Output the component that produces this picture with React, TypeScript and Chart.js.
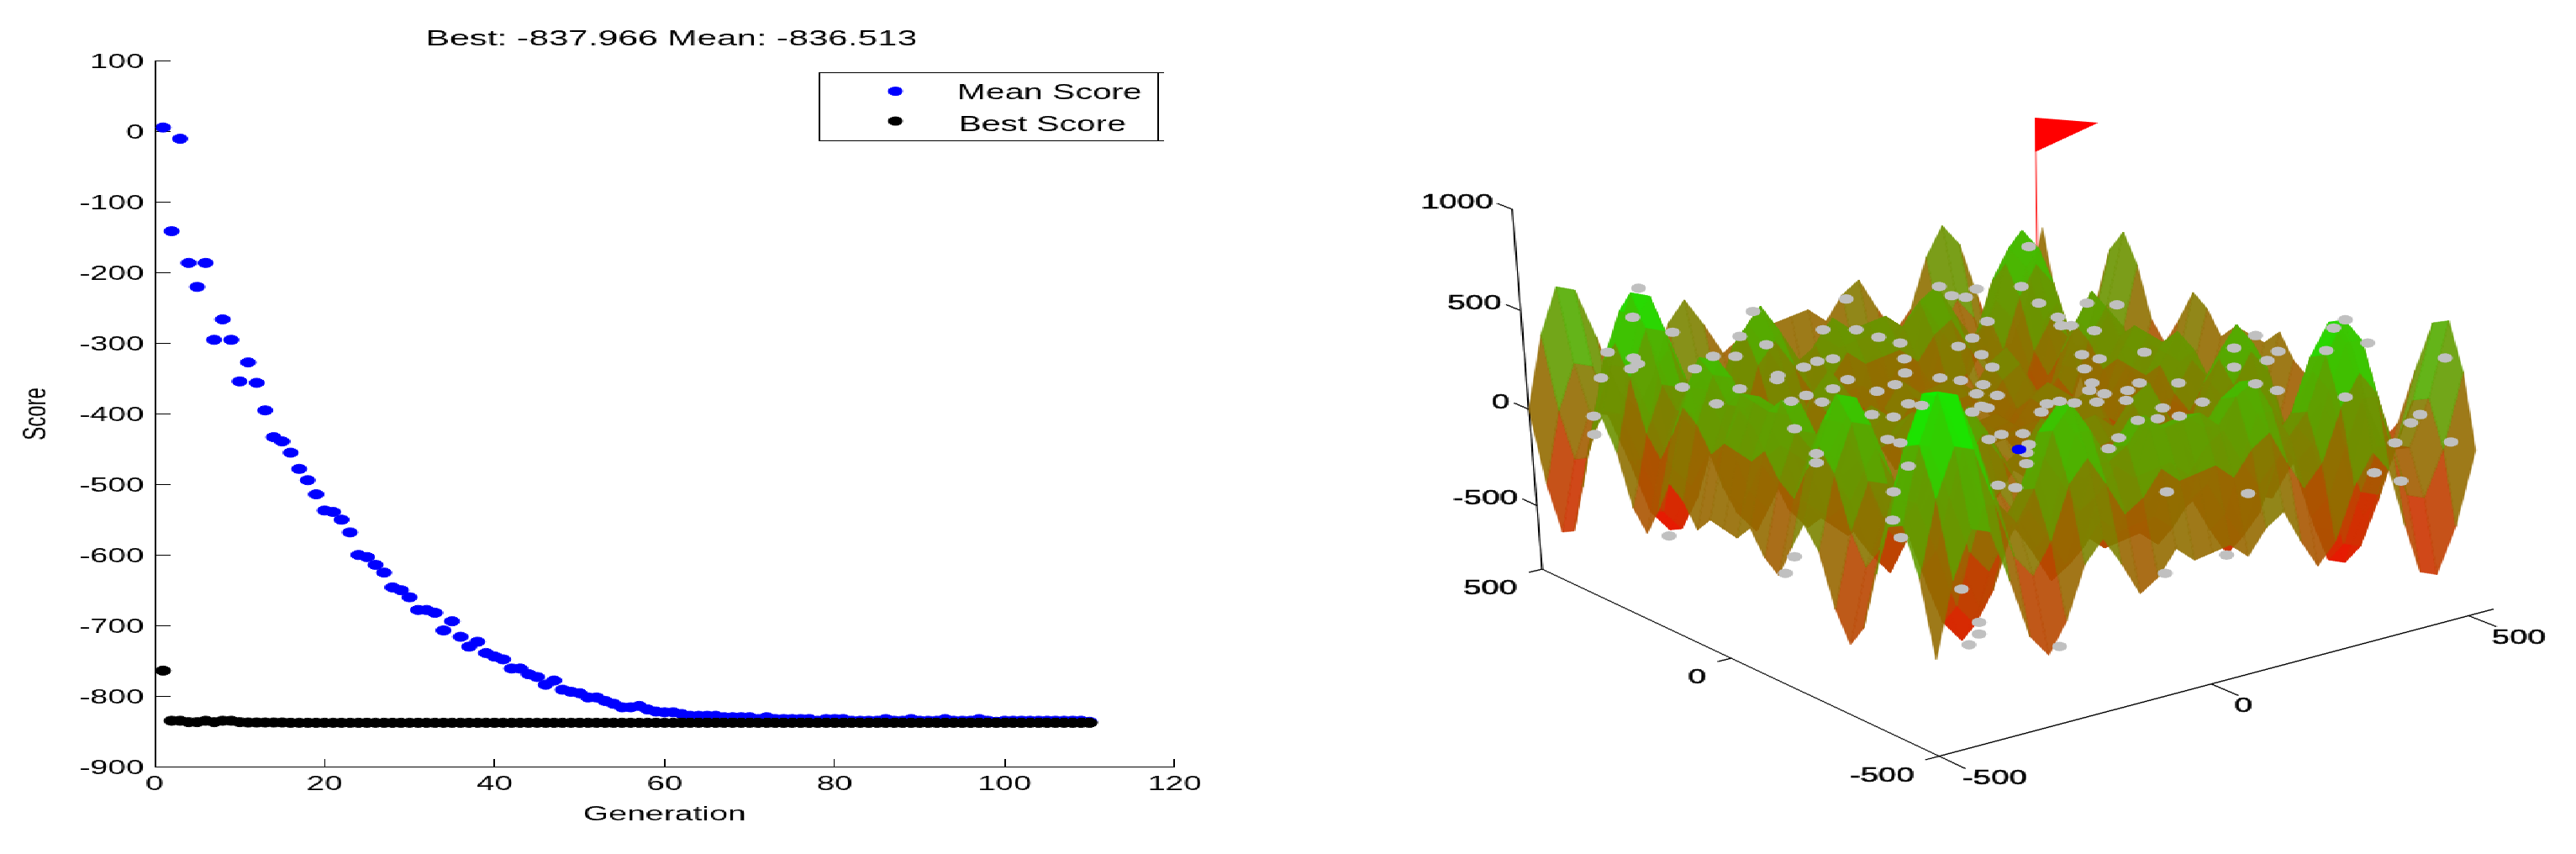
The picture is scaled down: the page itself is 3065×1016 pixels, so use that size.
import { useEffect, useRef } from "react";
import { Chart, registerables } from "chart.js";

Chart.register(...registerables);

const FONT = "'Liberation Sans', Arial, sans-serif";
// the whole figure was stretched sideways, so both canvases are drawn narrow and widened by css
const STRETCH = 1.6;
const LEFT_W = 999;
const RIGHT_W = 917;
const HEIGHT = 1016;

const titleText = "Best: -837.966 Mean: -836.513";

const meanScore = [
  6, -141, -10, -186, -220, -186, -295, -266, -295, -354,
  -327, -356, -395, -433, -439, -455, -478, -494, -514, -537,
  -539, -550, -568, -600, -603, -614, -625, -646, -650, -660,
  -678, -678, -682, -707, -694, -716, -730, -723, -739, -744,
  -748, -761, -761, -769, -773, -784, -778, -791, -794, -796,
  -802, -802, -807, -811, -816, -816, -814, -819, -822, -823,
  -823, -825.5, -828, -828, -828, -828, -830, -830, -830, -830,
  -832.6, -830, -832.6, -832.6, -832.6, -832.6, -832.6, -835, -832.6, -832.6,
  -832.6, -835, -835, -835, -835, -832.6, -835, -835, -832.6, -835,
  -835, -835, -832.6, -835, -835, -835, -832.6, -835, -836.5, -835,
  -835, -835, -835, -835, -835, -835, -835, -835, -835, -836.513,
];

const bestScore = [
  -764, -835, -835, -837, -837, -835, -837, -835, -835, -837,
  -837.5, -837.5, -837.5, -837.5, -837.5, -837.9, -837.9, -837.9, -837.9, -837.9,
  -837.9, -837.9, -837.9, -837.9, -837.9, -837.9, -837.9, -837.9, -837.9, -837.9,
  -837.9, -837.9, -837.9, -837.9, -837.9, -837.9, -837.9, -837.9, -837.9, -837.9,
  -837.9, -837.9, -837.9, -837.9, -837.9, -837.9, -837.9, -837.9, -837.9, -837.9,
  -837.9, -837.9, -837.9, -837.9, -837.9, -837.9, -837.9, -837.9, -837.9, -837.9,
  -837.9, -837.9, -837.9, -837.9, -837.9, -837.9, -837.9, -837.9, -837.9, -837.9,
  -837.966, -837.966, -837.966, -837.966, -837.966, -837.966, -837.966, -837.966, -837.966, -837.966,
  -837.966, -837.966, -837.966, -837.966, -837.966, -837.966, -837.966, -837.966, -837.966, -837.966,
  -837.966, -837.966, -837.966, -837.966, -837.966, -837.966, -837.966, -837.966, -837.966, -837.966,
  -837.966, -837.966, -837.966, -837.966, -837.966, -837.966, -837.966, -837.966, -837.966, -837.966,
];

// surface heights, rows run along y and columns along x
const gridX = [
  -500, -467, -433, -400, -367, -333, -300, -267, -233, -200, -167, -133, -100, -67, -33, 0,
  33, 67, 100, 133, 167, 200, 233, 267, 300, 333, 367, 400, 433, 467, 500,
];
const gridY = gridX;
const surfaceZ = [
  [-362,-3,219,184,-73,-367,-481,-336,-83,19,-125,-294,-235,-117,-197,-181,-165,-245,-127,-68,-237,-381,-279,-26,119,5,-289,-546,-581,-359,0],
  [-3,356,578,543,286,-8,-122,23,276,378,234,65,124,242,162,178,194,114,232,291,122,-22,80,333,478,364,70,-187,-222,0,359],
  [219,578,800,765,508,214,100,245,498,600,456,287,346,464,384,400,416,336,454,513,344,200,302,555,700,586,292,35,0,222,581],
  [184,543,765,730,473,179,65,210,463,565,421,252,311,429,349,365,381,301,419,478,309,165,267,520,665,551,257,0,-35,187,546],
  [-73,286,508,473,216,-78,-192,-47,206,308,164,-5,54,172,92,108,124,44,162,221,52,-92,10,263,408,294,0,-257,-292,-70,289],
  [-367,-8,214,179,-78,-372,-486,-341,-88,14,-130,-299,-240,-122,-202,-186,-170,-250,-132,-73,-242,-386,-284,-31,114,0,-294,-551,-586,-364,-5],
  [-481,-122,100,65,-192,-486,-600,-455,-202,-100,-244,-413,-354,-236,-316,-300,-284,-364,-246,-187,-356,-500,-398,-145,0,-114,-408,-665,-700,-478,-119],
  [-336,23,245,210,-47,-341,-455,-310,-57,45,-99,-268,-209,-91,-171,-155,-139,-219,-101,-42,-211,-355,-253,0,145,31,-263,-520,-555,-333,26],
  [-83,276,498,463,206,-88,-202,-57,196,298,154,-15,44,162,82,98,114,34,152,211,42,-102,0,253,398,284,-10,-267,-302,-80,279],
  [19,378,600,565,308,14,-100,45,298,400,256,87,146,264,184,200,216,136,254,313,144,0,102,355,500,386,92,-165,-200,22,381],
  [-125,234,456,421,164,-130,-244,-99,154,256,112,-57,2,120,40,56,72,-8,110,169,0,-144,-42,211,356,242,-52,-309,-344,-122,237],
  [-294,65,287,252,-5,-299,-413,-268,-15,87,-57,-226,-167,-49,-129,-113,-97,-177,-59,0,-169,-313,-211,42,187,73,-221,-478,-513,-291,68],
  [-235,124,346,311,54,-240,-354,-209,44,146,2,-167,-108,10,-70,-54,-38,-118,0,59,-110,-254,-152,101,246,132,-162,-419,-454,-232,127],
  [-117,242,464,429,172,-122,-236,-91,162,264,120,-49,10,128,48,64,80,0,118,177,8,-136,-34,219,364,250,-44,-301,-336,-114,245],
  [-197,162,384,349,92,-202,-316,-171,82,184,40,-129,-70,48,-32,-16,0,-80,38,97,-72,-216,-114,139,284,170,-124,-381,-416,-194,165],
  [-181,178,400,365,108,-186,-300,-155,98,200,56,-113,-54,64,-16,0,16,-64,54,113,-56,-200,-98,155,300,186,-108,-365,-400,-178,181],
  [-165,194,416,381,124,-170,-284,-139,114,216,72,-97,-38,80,0,16,32,-48,70,129,-40,-184,-82,171,316,202,-92,-349,-384,-162,197],
  [-245,114,336,301,44,-250,-364,-219,34,136,-8,-177,-118,0,-80,-64,-48,-128,-10,49,-120,-264,-162,91,236,122,-172,-429,-464,-242,117],
  [-127,232,454,419,162,-132,-246,-101,152,254,110,-59,0,118,38,54,70,-10,108,167,-2,-146,-44,209,354,240,-54,-311,-346,-124,235],
  [-68,291,513,478,221,-73,-187,-42,211,313,169,0,59,177,97,113,129,49,167,226,57,-87,15,268,413,299,5,-252,-287,-65,294],
  [-237,122,344,309,52,-242,-356,-211,42,144,0,-169,-110,8,-72,-56,-40,-120,-2,57,-112,-256,-154,99,244,130,-164,-421,-456,-234,125],
  [-381,-22,200,165,-92,-386,-500,-355,-102,0,-144,-313,-254,-136,-216,-200,-184,-264,-146,-87,-256,-400,-298,-45,100,-14,-308,-565,-600,-378,-19],
  [-279,80,302,267,10,-284,-398,-253,0,102,-42,-211,-152,-34,-114,-98,-82,-162,-44,15,-154,-298,-196,57,202,88,-206,-463,-498,-276,83],
  [-26,333,555,520,263,-31,-145,0,253,355,211,42,101,219,139,155,171,91,209,268,99,-45,57,310,455,341,47,-210,-245,-23,336],
  [119,478,700,665,408,114,0,145,398,500,356,187,246,364,284,300,316,236,354,413,244,100,202,455,600,486,192,-65,-100,122,481],
  [5,364,586,551,294,0,-114,31,284,386,242,73,132,250,170,186,202,122,240,299,130,-14,88,341,486,372,78,-179,-214,8,367],
  [-289,70,292,257,0,-294,-408,-263,-10,92,-52,-221,-162,-44,-124,-108,-92,-172,-54,5,-164,-308,-206,47,192,78,-216,-473,-508,-286,73],
  [-546,-187,35,0,-257,-551,-665,-520,-267,-165,-309,-478,-419,-301,-381,-365,-349,-429,-311,-252,-421,-565,-463,-210,-65,-179,-473,-730,-765,-543,-184],
  [-581,-222,0,-35,-292,-586,-700,-555,-302,-200,-344,-513,-454,-336,-416,-400,-384,-464,-346,-287,-456,-600,-498,-245,-100,-214,-508,-765,-800,-578,-219],
  [-359,0,222,187,-70,-364,-478,-333,-80,22,-122,-291,-232,-114,-194,-178,-162,-242,-124,-65,-234,-378,-276,-23,122,8,-286,-543,-578,-356,3],
  [0,359,581,546,289,-5,-119,26,279,381,237,68,127,245,165,181,197,117,235,294,125,-19,83,336,481,367,73,-184,-219,3,362],
];

// population as it lands on the view plane of the 3d plot (the hidden x/y scales of that chart)
const populationView = [
  [1945,341],[1938,376],[1986,394],[2083,369],[2195,354],[2067,399],[2099,409],[1908,418],[1939,425],[1944,432],
  [1936,438],[1900,449],[2013,438],[2035,423],[2062,423],[2144,436],[2160,429],[2179,426],[2113,446],[2112,451],
  [2197,451],[2179,462],[2067,462],[1998,460],[2039,480],[2147,470],[2166,478],[2232,465],[2254,457],[2129,477],
  [2133,510],[2226,493],[2252,496],[2270,480],[2286,482],[2260,527],[2245,523],[2159,540],[2159,551],[2252,586],
  [2261,641],[1982,639],[2133,664],[2122,684],[1892,517],[1891,495],[2265,426],[2266,443],[2260,407],[2234,400],
  [2207,391],[2167,391],[2270,555],[2415,291],[2406,339],[2427,359],[2450,376],[2454,386],[2466,386],[2494,392],
  [2479,421],[2500,426],[2482,438],[2491,455],[2488,464],[2506,468],[2497,478],[2532,476],[2534,464],[2548,455],
  [2595,455],[2624,478],[2576,485],[2596,495],[2570,498],[2546,500],[2430,490],[2437,480],[2452,477],[2470,479],
  [2408,516],[2382,517],[2415,529],[2412,539],[2412,552],[2399,581],[2378,578],[2523,521],[2511,534],[2679,588],
  [2581,586],[2662,413],[2702,428],[2662,436],[2715,417],[2688,398],[2714,464],[2688,456],[2796,379],[2782,389],
  [2823,407],[2773,416],[2796,472],[2916,425],[2875,503],[2886,493],[2923,526],[2856,527],[2831,563],[2863,573],
  [2554,418],[2521,361],[2485,359],[2330,411],[2358,421],[2371,436],[2308,449],[2333,452],[2360,457],[2352,468],
  [2377,470],[2358,483],[2365,485],[2347,490],[2322,350],[2339,352],[2307,339],[2352,342],[2365,381],[2347,401],
  [2367,523],[2653,662],[2579,684],[2334,703],[2355,743],[2355,757],[2343,770],[2452,772],[2251,620],
];
const bestPointView = [[2403, 535]];

const zTicks = [1000, 500, 0, -500];
const floorTicks = [500, 0, -500];
const FLOOR_Z = -838;
const flagX = 445;
const flagY = 445;
const flagTopZ = 992;

// height to colour: share of green at each level, the rest is red
const colorLevels = [-838, -300, 0, 300, 500, 650, 838];
const colorGreen = [0, 0.24, 0.42, 0.62, 0.75, 0.88, 1];

// perspective camera of the right plot, maps data to the hidden view-plane scales
const project = (x: number, y: number, z: number) => {
  const u = (x + 500) / 1000;
  const v = (y + 500) / 1000;
  const t = (z - FLOOR_Z) / 1000;
  const w = 1 + 0.058 * u + 0.1 * v - 0.028 * t;
  return {
    x: (2307 + 808 * u - 295.1 * v - 71.8 * t) / w,
    y: (904 - 126.4 * u - 157.1 * v - 266 * t) / w,
    depth: w,
  };
};

const heightColor = (z: number, alpha: number) => {
  let k = 0;
  while (k < colorLevels.length - 2 && z > colorLevels[k + 1]) k++;
  const s = (z - colorLevels[k]) / (colorLevels[k + 1] - colorLevels[k]);
  const f = Math.min(1, Math.max(0, colorGreen[k] + s * (colorGreen[k + 1] - colorGreen[k])));
  return `rgba(${Math.round(255 * (1 - f))},${Math.round(255 * f)},0,${alpha})`;
};

const legendPlugin = {
  id: "boxLegend",
  afterDraw(chart: any) {
    const { ctx } = chart;
    ctx.save();
    ctx.strokeStyle = "#000";
    ctx.lineWidth = 1;
    ctx.strokeRect(609.5, 86.5, 252, 81);
    // stray little ticks on the legend axes
    ctx.beginPath();
    ctx.moveTo(862, 86.5);
    ctx.lineTo(866, 86.5);
    ctx.moveTo(862, 167.5);
    ctx.lineTo(866, 167.5);
    ctx.stroke();
    ctx.font = `25.5px ${FONT}`;
    ctx.textAlign = "left";
    ctx.textBaseline = "middle";
    ctx.fillStyle = "#000";
    const rows = [110, 148];
    chart.data.datasets.forEach((ds: any, i: number) => {
      ctx.fillStyle = ds.backgroundColor;
      ctx.beginPath();
      ctx.arc(666, i === 0 ? 108.5 : 144, 5.5, 0, Math.PI * 2);
      ctx.fill();
      ctx.fillStyle = "#000";
      ctx.fillText(ds.label, i === 0 ? 712 : 713, rows[i] + 1);
    });
    ctx.restore();
  },
};

const surfacePlugin = {
  id: "surface3d",
  beforeDatasetsDraw(chart: any) {
    const { ctx, scales } = chart;
    const px = (p: { x: number; y: number }) => [
      scales.x.getPixelForValue(p.x),
      scales.y.getPixelForValue(p.y),
    ];
    const line = (a: any, b: any) => {
      const [x1, y1] = px(a);
      const [x2, y2] = px(b);
      ctx.beginPath();
      ctx.moveTo(x1, y1);
      ctx.lineTo(x2, y2);
      ctx.stroke();
    };
    const label = (text: string, p: any, dx: number, dy: number, align: string) => {
      const [x, y] = px({ x: p.x + dx, y: p.y + dy });
      ctx.textAlign = align;
      ctx.save();
      ctx.lineWidth = 0.5;
      ctx.strokeText(text, x, y);
      ctx.restore();
      ctx.fillText(text, x, y);
    };

    ctx.save();
    ctx.strokeStyle = "#000";
    ctx.fillStyle = "#000";
    ctx.lineWidth = 1.2;
    ctx.font = `24px ${FONT}`;
    ctx.textBaseline = "middle";

    // axes
    line(project(-500, 500, FLOOR_Z), project(-500, 500, 1000));
    line(project(-500, -500, FLOOR_Z), project(-500, 500, FLOOR_Z));
    line(project(-500, -500, FLOOR_Z), project(550, -500, FLOOR_Z));
    zTicks.forEach((z) => {
      const p = project(-500, 500, z);
      line(p, project(-500, 540, z));
      label(String(z), p, -23, -8, "right");
    });
    floorTicks.forEach((y) => {
      const p = project(-500, y, FLOOR_Z);
      line(p, project(-525, y, FLOOR_Z));
      label(String(y), p, -30, 24, "right");
    });
    floorTicks.forEach((x) => {
      const p = project(x, -500, FLOOR_Z);
      line(p, project(x, -560, FLOOR_Z));
      label(String(x), p, 28, 27, "left");
    });

    // flag pole at the global minimum
    const poleTop = project(flagX, flagY, flagTopZ);
    ctx.strokeStyle = "#f00";
    ctx.lineWidth = 0.8;
    line(project(flagX, flagY, FLOOR_Z), poleTop);
    const a = px(poleTop);
    const b = px({ x: poleTop.x + 76, y: poleTop.y + 6 });
    const c = px({ x: poleTop.x, y: poleTop.y + 41 });
    ctx.fillStyle = "#f00";
    ctx.beginPath();
    ctx.moveTo(a[0], a[1]);
    ctx.lineTo(b[0], b[1]);
    ctx.lineTo(c[0], c[1]);
    ctx.closePath();
    ctx.fill();

    // mesh facets, far ones first
    const facets: any[] = [];
    for (let j = 0; j < gridY.length - 1; j++) {
      for (let i = 0; i < gridX.length - 1; i++) {
        const corners = [
          project(gridX[i], gridY[j], surfaceZ[j][i]),
          project(gridX[i + 1], gridY[j], surfaceZ[j][i + 1]),
          project(gridX[i + 1], gridY[j + 1], surfaceZ[j + 1][i + 1]),
          project(gridX[i], gridY[j + 1], surfaceZ[j + 1][i]),
        ];
        const z = (surfaceZ[j][i] + surfaceZ[j][i + 1] + surfaceZ[j + 1][i + 1] + surfaceZ[j + 1][i]) / 4;
        const depth = corners.reduce((s, p) => s + p.depth, 0) / 4;
        facets.push({ corners, z, depth });
      }
    }
    facets.sort((f, g) => g.depth - f.depth);
    ctx.lineWidth = 0.6;
    facets.forEach((f) => {
      ctx.beginPath();
      f.corners.forEach((p: any, k: number) => {
        const [x, y] = px(p);
        if (k === 0) ctx.moveTo(x, y);
        else ctx.lineTo(x, y);
      });
      ctx.closePath();
      ctx.fillStyle = heightColor(f.z, 0.9);
      ctx.strokeStyle = ctx.fillStyle;
      ctx.fill();
      ctx.stroke();
    });
    ctx.restore();
  },
};

const canvasStyle = (left: number, w: number): React.CSSProperties => ({
  position: "absolute",
  left,
  top: 0,
  width: w * STRETCH,
  height: HEIGHT,
  imageRendering: "pixelated",
});

const App = () => {
  const scoreRef = useRef<HTMLCanvasElement | null>(null);
  const surfaceRef = useRef<HTMLCanvasElement | null>(null);

  useEffect(() => {
    if (!scoreRef.current || !surfaceRef.current) return;
    Chart.defaults.font.family = FONT;
    Chart.defaults.color = "#000";

    const generations = meanScore.map((_, i) => i + 1);
    const scoreChart = new Chart(scoreRef.current, {
      type: "scatter",
      data: {
        datasets: [
          {
            label: "Mean Score",
            data: generations.map((g, i) => ({ x: g, y: meanScore[i] })),
            backgroundColor: "#0000ff",
            borderColor: "#0000ff",
            pointRadius: 5.5,
            order: 1,
          },
          {
            label: "Best Score",
            data: generations.map((g, i) => ({ x: g, y: bestScore[i] })),
            backgroundColor: "#000000",
            borderColor: "#000000",
            pointRadius: 5.5,
            order: 0,
          },
        ],
      },
      options: {
        responsive: false,
        devicePixelRatio: 1,
        animation: false,
        plugins: {
          legend: { display: false },
          tooltip: { enabled: false },
          title: {
            display: true,
            text: titleText,
            color: "#000",
            font: { size: 26.5, weight: "normal" },
            padding: { top: 31, bottom: 10 },
          },
        },
        scales: {
          x: {
            type: "linear",
            min: 0,
            max: 120,
            afterFit: (s: any) => { s.height = 104; },
            border: { color: "#000" },
            grid: { drawOnChartArea: false, tickLength: -9, tickColor: "#000" },
            ticks: { stepSize: 20, color: "#000", font: { size: 24 }, padding: 16, maxRotation: 0 },
            title: {
              display: true,
              text: "Generation",
              color: "#000",
              font: { size: 24.5 },
              padding: { top: 0, bottom: 32 },
            },
          },
          y: {
            type: "linear",
            min: -900,
            max: 100,
            afterFit: (s: any) => { s.width = 115; },
            border: { color: "#000" },
            grid: { drawOnChartArea: false, tickLength: -12, tickColor: "#000" },
            ticks: { stepSize: 100, color: "#000", font: { size: 24 }, padding: 20, labelOffset: 2 },
            title: {
              display: true,
              text: "Score",
              color: "#000",
              font: { size: 24 },
              padding: { top: 13, bottom: 0 },
            },
          },
          // empty axis, only keeps the plot area clear of the right side so the title stays centred
          spacer: {
            type: "linear",
            position: "right",
            afterFit: (s: any) => { s.width = 125.25; },
            border: { display: false },
            grid: { display: false },
            ticks: { display: false },
          },
        },
      },
      plugins: [legendPlugin],
    } as any);

    const surfaceChart = new Chart(surfaceRef.current, {
      type: "scatter",
      data: {
        datasets: [
          {
            label: "Population",
            data: populationView.map(([x, y]) => ({ x, y })),
            backgroundColor: "#c0c0c0",
            borderWidth: 0,
            pointRadius: 5.6,
            order: 1,
          },
          {
            label: "Best",
            data: bestPointView.map(([x, y]) => ({ x, y })),
            backgroundColor: "#0000ff",
            borderWidth: 0,
            pointRadius: 5.6,
            order: 0,
          },
        ],
      },
      options: {
        responsive: false,
        devicePixelRatio: 1,
        animation: false,
        plugins: { legend: { display: false }, tooltip: { enabled: false } },
        scales: {
          x: { type: "linear", display: false, min: LEFT_W * STRETCH, max: (LEFT_W + RIGHT_W) * STRETCH },
          y: { type: "linear", display: false, min: 0, max: HEIGHT, reverse: true },
        },
      },
      plugins: [surfacePlugin],
    } as any);

    return () => {
      scoreChart.destroy();
      surfaceChart.destroy();
    };
  }, []);

  return (
    <div style={{ position: "absolute", left: 0, top: 0, width: 3065, height: HEIGHT, overflow: "hidden", background: "#fff" }}>
      <canvas
        ref={scoreRef}
        width={LEFT_W}
        height={HEIGHT}
        style={{ ...canvasStyle(0, LEFT_W), filter: "brightness(0.8) contrast(6)" }}
      />
      <canvas ref={surfaceRef} width={RIGHT_W} height={HEIGHT} style={canvasStyle(LEFT_W * STRETCH, RIGHT_W)} />
    </div>
  );
};

export default App;
